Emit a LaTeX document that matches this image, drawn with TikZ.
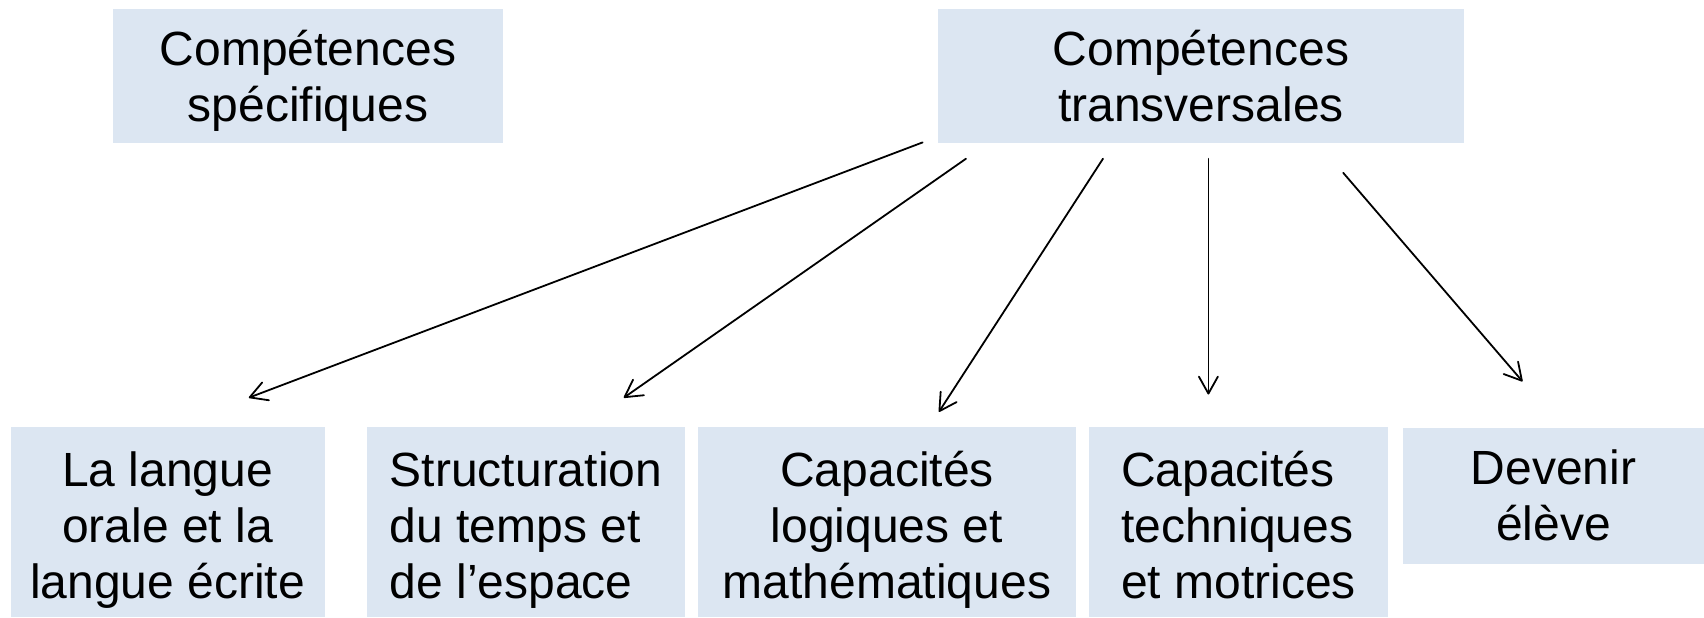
\documentclass[tikz,border=0pt]{standalone}
\usepackage{fontspec}
\setmainfont{Liberation Sans}
\usetikzlibrary{arrows.meta}
\definecolor{boxfill}{HTML}{DCE6F2}
\begin{document}
\begin{tikzpicture}[x=0.5pt,y=-0.5pt,
  card/.style={fill=boxfill, draw=none, inner sep=0pt, align=center,
    font=\fontsize{24}{28}\selectfont, text=black},
  % two-line cards: last baseline below the centre
  twoline/.style={card, text height=50pt, text depth=4.3pt},
  % three-line cards
  threeline/.style={card, minimum height=95pt, text height=80pt, text depth=4pt},
  link/.style={line width=0.9pt, line cap=round,
    -{Straight Barb[length=8.5pt,width=9.5pt,round]}}]
\useasboundingbox (0,0) rectangle (1704,617);

% upper level
\node[twoline, minimum width=195pt, minimum height=67pt] (spec)  at (308,76)  {Compétences\\spécifiques};
\node[twoline, minimum width=263pt, minimum height=67pt] (trans) at (1201,76) {Compétences\\transversales};

% lower level
\node[threeline, minimum width=157pt]   (langue)    at (167.5,522)  {La langue\\orale et la\\langue écrite};
\node[threeline, minimum width=159pt, align=left] (temps) at (526,522) {Structuration\\du temps et\\de l’espace};
\node[threeline, minimum width=189pt]   (logique)   at (887,522)    {Capacités\\logiques et\\mathématiques};
\node[threeline, minimum width=149.5pt, align=left] (technique) at (1238.5,522) {Capacités\\techniques\\et motrices};
\node[twoline, minimum width=150.5pt, minimum height=68pt, text height=48pt, text depth=4pt] (eleve) at (1553.5,496) {Devenir\\élève};

% arrow ends
\coordinate (from-langue)    at (922.6,142.4);
\coordinate (to-langue)      at (248.8,397.7);
\coordinate (from-temps)     at (966,158.7);
\coordinate (to-temps)       at (623.8,397.7);
\coordinate (from-logique)   at (1103,158.7);
\coordinate (to-logique)     at (938.9,411.9);
\coordinate (from-technique) at (1208.4,158.7);
\coordinate (to-technique)   at (1208.4,394.5);
\coordinate (from-eleve)     at (1343.2,172.8);
\coordinate (to-eleve)       at (1522.5,381.4);

\draw[link] (from-langue)    -- (to-langue);
\draw[link] (from-temps)     -- (to-temps);
\draw[link] (from-logique)   -- (to-logique);
\draw[link] (from-technique) -- (to-technique);
\draw[link] (from-eleve)     -- (to-eleve);
\end{tikzpicture}
\end{document}
